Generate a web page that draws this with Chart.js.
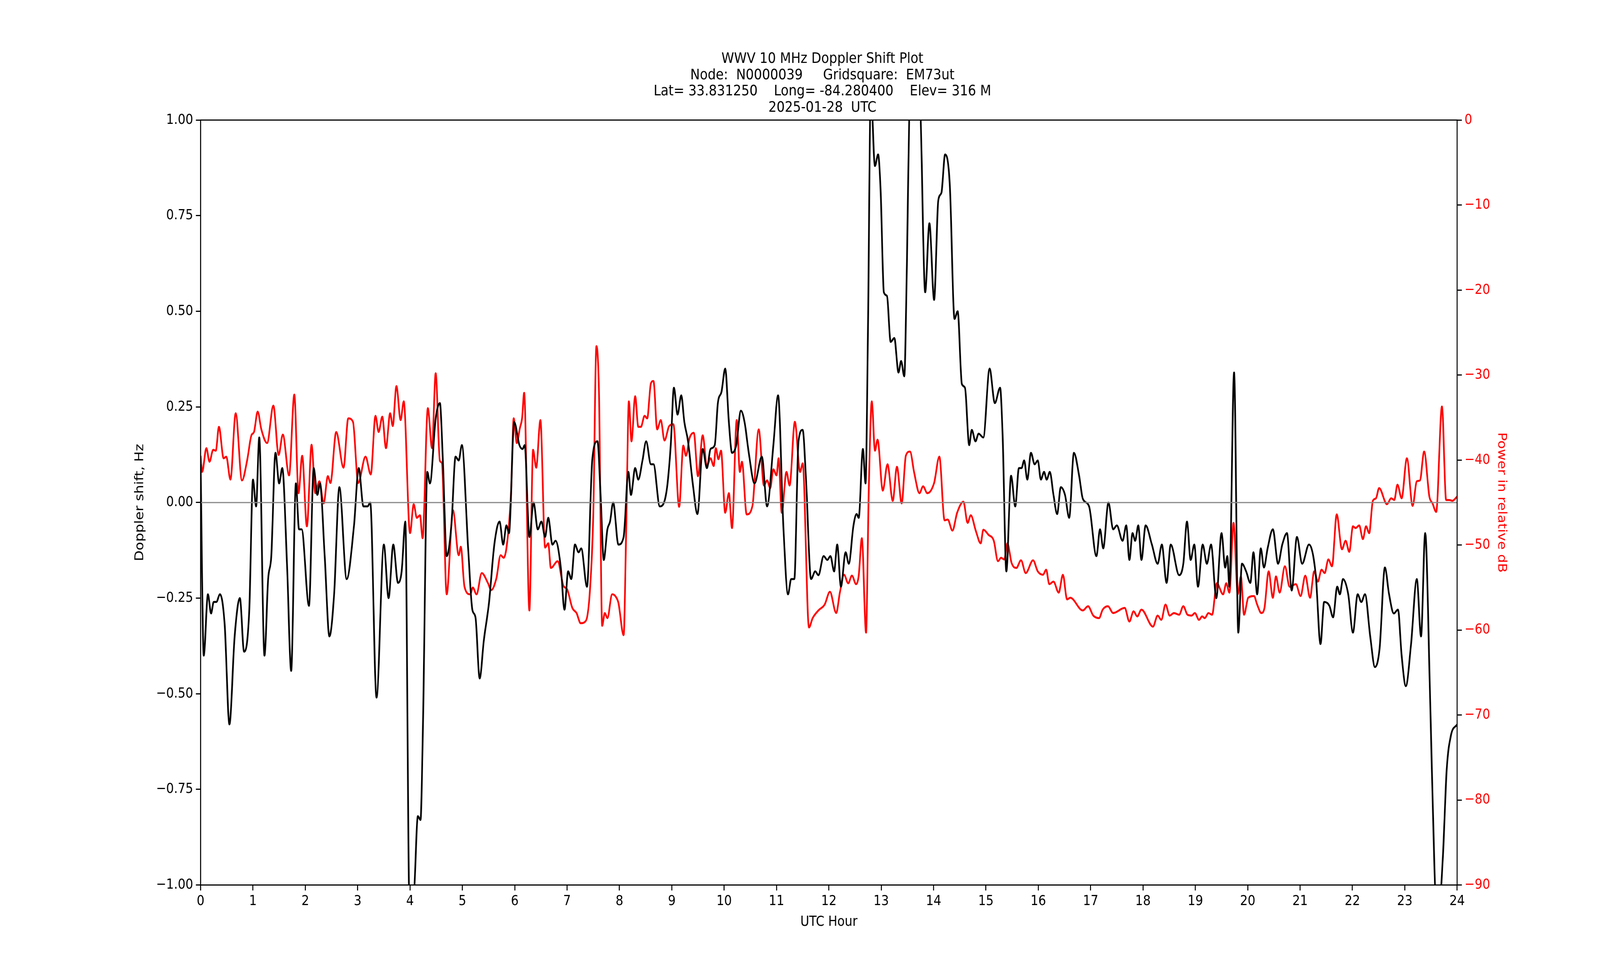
<!DOCTYPE html>
<html>
<head>
<meta charset="utf-8">
<script src="https://cdn.jsdelivr.net/npm/chart.js@4.4.1/dist/chart.umd.min.js"></script>
<style>
  html, body { margin: 0; padding: 0; background: #fff; overflow: hidden; }
  #wrap { width: 4750px; height: 2500px; transform-origin: 0 0; }
  #doppler { display: block; width: 4750px; height: 2500px; }
</style>
</head>
<body>
<div id="wrap"><canvas id="doppler" width="4750" height="2500"></canvas></div>
<script>
// Title lines
const titleLines = [
  'WWV 10 MHz Doppler Shift Plot',
  'Node:  N0000039     Gridsquare:  EM73ut',
  'Lat= 33.831250    Long= -84.280400    Elev= 316 M',
  '2025-01-28  UTC'
]

// Doppler shift (Hz), [hour, value] pairs
const dopplerPts = [
  [0,0.10],[0.06,-0.40],[0.14,-0.24],[0.2,-0.29],[0.25,-0.26],[0.3,-0.26],[0.37,-0.24],[0.46,-0.32],[0.55,-0.58],
  [0.65,-0.35],[0.75,-0.25],[0.83,-0.39],[0.93,-0.28],[1.0,0.06],[1.06,-0.01],[1.12,0.17],[1.22,-0.40],[1.29,-0.20],
  [1.35,-0.14],[1.43,0.13],[1.5,0.05],[1.56,0.09],[1.65,-0.16],[1.73,-0.44],[1.82,0.05],[1.88,-0.07],[1.93,-0.07],
  [2.07,-0.27],[2.16,0.09],[2.23,0.02],[2.28,0.05],[2.37,-0.14],[2.46,-0.35],[2.55,-0.24],[2.65,0.04],[2.79,-0.20],
  [2.93,-0.06],[3.02,0.09],[3.11,-0.01],[3.19,-0.01],[3.24,0.0],[3.36,-0.51],[3.5,-0.11],[3.59,-0.25],[3.68,-0.11],
  [3.77,-0.21],[3.84,-0.18],[3.91,-0.05],[3.99,-1.05],[4.07,-1.03],[4.15,-0.82],[4.2,-0.83],[4.25,-0.56],[4.33,0.08],
  [4.38,0.05],[4.49,0.22],[4.57,0.26],[4.63,0.10],[4.7,-0.14],[4.79,-0.06],[4.87,0.12],[4.93,0.11],[4.99,0.15],
  [5.11,-0.12],[5.19,-0.28],[5.25,-0.30],[5.33,-0.46],[5.41,-0.36],[5.51,-0.26],[5.61,-0.11],[5.71,-0.05],[5.78,-0.11],
  [5.84,-0.06],[5.89,-0.08],[5.99,0.21],[6.09,0.15],[6.15,0.14],[6.19,0.15],[6.28,-0.09],[6.36,0.0],[6.44,-0.07],
  [6.51,-0.05],[6.58,-0.09],[6.64,-0.04],[6.72,-0.11],[6.78,-0.10],[6.88,-0.17],[6.95,-0.28],[7.02,-0.18],[7.08,-0.20],
  [7.15,-0.11],[7.22,-0.13],[7.27,-0.12],[7.38,-0.22],[7.48,0.11],[7.58,0.16],[7.64,0.02],[7.7,-0.15],[7.77,-0.07],
  [7.82,-0.05],[7.88,0.0],[7.98,-0.11],[8.08,-0.09],[8.17,0.08],[8.22,0.02],[8.3,0.09],[8.36,0.06],[8.44,0.11],
  [8.51,0.16],[8.6,0.10],[8.65,0.10],[8.77,-0.01],[8.9,0.03],[8.98,0.15],[9.04,0.30],[9.11,0.23],[9.18,0.28],
  [9.24,0.21],[9.31,0.16],[9.4,0.05],[9.49,-0.03],[9.59,0.14],[9.67,0.09],[9.74,0.14],[9.82,0.15],[9.88,0.26],
  [9.95,0.29],[10.02,0.35],[10.09,0.21],[10.15,0.13],[10.23,0.15],[10.32,0.24],[10.39,0.21],[10.47,0.13],[10.58,0.05],
  [10.72,0.12],[10.82,-0.01],[10.94,0.15],[11.03,0.28],[11.13,-0.06],[11.22,-0.24],[11.28,-0.20],[11.34,-0.20],
  [11.42,0.16],[11.5,0.19],[11.56,0.07],[11.66,-0.20],[11.74,-0.18],[11.8,-0.19],[11.9,-0.14],[11.97,-0.15],
  [12.03,-0.14],[12.1,-0.18],[12.16,-0.11],[12.23,-0.22],[12.32,-0.13],[12.38,-0.16],[12.47,-0.06],[12.53,-0.03],
  [12.57,-0.04],[12.65,0.14],[12.7,0.05],[12.75,0.49],[12.8,1.08],[12.88,0.88],[12.94,0.91],[12.99,0.81],[13.05,0.55],
  [13.11,0.54],[13.18,0.42],[13.25,0.43],[13.33,0.34],[13.38,0.37],[13.44,0.33],[13.49,0.62],[13.54,1.05],[13.64,1.3],
  [13.75,1.02],[13.84,0.55],[13.92,0.73],[14.01,0.53],[14.09,0.79],[14.15,0.81],[14.22,0.91],[14.31,0.83],[14.4,0.48],
  [14.46,0.50],[14.54,0.31],[14.6,0.30],[14.68,0.15],[14.73,0.19],[14.8,0.16],[14.86,0.18],[14.95,0.17],[15.07,0.35],
  [15.17,0.26],[15.27,0.30],[15.32,0.17],[15.39,-0.18],[15.48,0.07],[15.56,-0.01],[15.63,0.09],[15.68,0.09],
  [15.73,0.11],[15.79,0.06],[15.86,0.13],[15.93,0.10],[15.99,0.11],[16.05,0.06],[16.11,0.08],[16.16,0.06],[16.22,0.08],
  [16.29,0.02],[16.36,-0.03],[16.43,0.04],[16.51,0.02],[16.59,-0.04],[16.68,0.13],[16.78,0.07],[16.85,0.01],
  [16.97,-0.01],[17.11,-0.14],[17.18,-0.07],[17.24,-0.12],[17.34,0.0],[17.43,-0.07],[17.5,-0.06],[17.61,-0.10],
  [17.68,-0.06],[17.74,-0.15],[17.8,-0.08],[17.85,-0.10],[17.91,-0.06],[17.97,-0.15],[18.05,-0.06],[18.17,-0.11],
  [18.28,-0.16],[18.36,-0.11],[18.45,-0.21],[18.53,-0.11],[18.69,-0.19],[18.77,-0.16],[18.84,-0.05],[18.91,-0.15],
  [18.98,-0.11],[19.05,-0.22],[19.14,-0.11],[19.22,-0.16],[19.3,-0.11],[19.4,-0.25],[19.5,-0.08],[19.57,-0.17],
  [19.61,-0.14],[19.65,-0.22],[19.74,0.34],[19.82,-0.34],[19.89,-0.16],[19.97,-0.18],[20.05,-0.21],[20.11,-0.13],
  [20.18,-0.24],[20.25,-0.12],[20.31,-0.17],[20.38,-0.12],[20.48,-0.07],[20.58,-0.16],[20.66,-0.11],[20.75,-0.08],
  [20.84,-0.23],[20.94,-0.09],[21.04,-0.16],[21.17,-0.11],[21.3,-0.19],[21.39,-0.37],[21.46,-0.26],[21.56,-0.27],
  [21.63,-0.30],[21.71,-0.22],[21.76,-0.24],[21.82,-0.20],[21.92,-0.24],[22.01,-0.34],[22.1,-0.24],[22.17,-0.26],
  [22.24,-0.24],[22.34,-0.35],[22.43,-0.43],[22.52,-0.38],[22.62,-0.17],[22.7,-0.24],[22.79,-0.29],[22.87,-0.28],
  [22.94,-0.40],[23.02,-0.48],[23.12,-0.37],[23.23,-0.20],[23.31,-0.35],[23.39,-0.08],[23.48,-0.49],[23.54,-0.82],
  [23.6,-1.05],[23.66,-1.05],[23.73,-0.92],[23.8,-0.70],[23.88,-0.61],[24.0,-0.58]
]

// Received power (relative dB), [hour, value] pairs
const powerPts = [
  [0,-39.5],[0.03,-41.4],[0.11,-38.6],[0.17,-40.2],[0.24,-38.8],[0.29,-38.9],[0.35,-36.1],[0.44,-39.8],[0.49,-39.6],
  [0.57,-42.3],[0.67,-34.5],[0.79,-42.4],[0.89,-40.0],[0.97,-37.1],[1.02,-36.7],[1.09,-34.3],[1.16,-36.4],[1.27,-38.0],
  [1.39,-33.6],[1.49,-39.4],[1.57,-37.0],[1.69,-41.8],[1.79,-32.3],[1.87,-43.9],[1.94,-39.5],[2.03,-47.8],[2.12,-38.2],
  [2.19,-43.9],[2.27,-42.5],[2.35,-45.1],[2.43,-41.9],[2.48,-42.7],[2.59,-36.7],[2.73,-40.9],[2.82,-35.1],[2.91,-35.5],
  [3.01,-42.7],[3.15,-39.6],[3.25,-41.7],[3.34,-34.8],[3.4,-36.7],[3.47,-34.9],[3.54,-38.6],[3.62,-34.5],[3.67,-36.0],
  [3.74,-31.3],[3.82,-35.3],[3.88,-33.1],[4.0,-48.6],[4.07,-45.2],[4.13,-46.8],[4.19,-46.5],[4.24,-49.2],[4.34,-33.9],
  [4.42,-38.6],[4.49,-29.8],[4.57,-40.1],[4.61,-40.4],[4.7,-55.8],[4.82,-45.9],[4.93,-51.2],[4.97,-50.2],[5.04,-54.9],
  [5.15,-55.8],[5.2,-55.0],[5.27,-55.8],[5.37,-53.3],[5.49,-54.5],[5.55,-55.3],[5.65,-53.9],[5.73,-51.2],[5.79,-51.5],
  [5.87,-48.9],[5.93,-43.7],[5.98,-35.1],[6.04,-38.0],[6.1,-36.2],[6.14,-35.1],[6.18,-32.1],[6.28,-57.7],[6.35,-38.8],
  [6.41,-40.9],[6.49,-35.3],[6.58,-50.3],[6.64,-49.8],[6.69,-52.7],[6.82,-51.9],[6.93,-54.8],[7.0,-55.2],[7.1,-57.4],
  [7.18,-58.0],[7.26,-59.2],[7.36,-58.9],[7.44,-55.0],[7.5,-46.5],[7.56,-26.6],[7.61,-32.4],[7.67,-59.5],[7.72,-58.0],
  [7.77,-58.6],[7.86,-55.8],[7.92,-56.0],[7.98,-56.8],[8.08,-60.6],[8.13,-47.7],[8.18,-33.1],[8.23,-37.8],[8.3,-32.5],
  [8.36,-36.1],[8.41,-36.1],[8.48,-34.8],[8.53,-35.1],[8.6,-31.0],[8.65,-30.7],[8.72,-36.4],[8.79,-35.3],[8.86,-37.7],
  [8.95,-36.0],[9.03,-35.8],[9.14,-45.5],[9.22,-38.3],[9.27,-39.5],[9.34,-37.4],[9.42,-36.8],[9.5,-41.9],[9.59,-37.1],
  [9.67,-40.7],[9.74,-39.8],[9.8,-40.7],[9.84,-38.6],[9.89,-39.9],[9.94,-38.9],[10.02,-46.2],[10.09,-43.9],
  [10.15,-48.0],[10.24,-35.3],[10.3,-41.4],[10.34,-40.2],[10.43,-46.4],[10.54,-45.4],[10.66,-36.4],[10.76,-43.0],
  [10.82,-42.4],[10.88,-43.3],[10.94,-41.1],[11.0,-41.8],[11.04,-39.8],[11.1,-46.2],[11.19,-41.4],[11.25,-43.0],
  [11.35,-35.5],[11.45,-41.4],[11.5,-40.4],[11.62,-59.7],[11.69,-58.6],[11.8,-57.7],[11.92,-57.0],[12.02,-55.5],
  [12.14,-58.0],[12.21,-55.6],[12.29,-53.5],[12.37,-54.5],[12.44,-53.6],[12.52,-54.6],[12.57,-53.6],[12.63,-49.2],
  [12.71,-60.3],[12.76,-44.2],[12.82,-33.1],[12.88,-38.9],[12.93,-37.6],[13.03,-43.6],[13.12,-40.5],[13.22,-44.8],
  [13.3,-40.8],[13.39,-45.1],[13.47,-39.5],[13.55,-39.0],[13.63,-41.5],[13.73,-43.9],[13.8,-43.1],[13.88,-43.9],
  [14.01,-42.7],[14.11,-39.6],[14.21,-47.1],[14.27,-47.0],[14.36,-48.3],[14.45,-46.2],[14.57,-44.9],[14.65,-47.4],
  [14.71,-46.5],[14.81,-48.4],[14.9,-49.8],[14.95,-48.2],[15.05,-48.8],[15.15,-49.5],[15.23,-51.9],[15.29,-51.5],
  [15.35,-51.7],[15.41,-49.8],[15.49,-52.1],[15.58,-52.7],[15.67,-51.8],[15.76,-53.3],[15.9,-51.8],[15.99,-53.1],
  [16.09,-53.5],[16.15,-52.9],[16.21,-54.6],[16.29,-54.3],[16.39,-55.6],[16.47,-53.5],[16.55,-56.4],[16.61,-56.2],
  [16.85,-57.7],[16.95,-57.2],[17.05,-58.3],[17.16,-58.6],[17.23,-57.6],[17.33,-57.2],[17.43,-58.0],[17.65,-57.4],
  [17.74,-59.0],[17.82,-57.8],[17.89,-58.4],[17.97,-57.6],[18.19,-59.6],[18.28,-58.3],[18.35,-58.8],[18.43,-57.0],
  [18.51,-58.3],[18.59,-58.0],[18.69,-58.2],[18.77,-57.2],[18.85,-58.2],[18.93,-58.3],[18.99,-58.0],[19.07,-58.8],
  [19.13,-58.4],[19.18,-58.6],[19.25,-58.0],[19.32,-58.2],[19.41,-54.5],[19.53,-55.8],[19.59,-54.5],[19.65,-55.6],
  [19.73,-47.4],[19.81,-55.8],[19.87,-53.7],[19.93,-58.2],[20.01,-56.2],[20.12,-56.0],[20.18,-57.0],[20.26,-58.0],
  [20.32,-57.4],[20.4,-53.1],[20.48,-56.2],[20.54,-53.7],[20.61,-55.6],[20.71,-52.5],[20.8,-54.9],[20.92,-54.6],
  [21.01,-56.0],[21.1,-53.6],[21.19,-56.2],[21.27,-53.1],[21.34,-54.3],[21.41,-52.9],[21.47,-53.3],[21.54,-51.7],
  [21.61,-52.5],[21.7,-46.4],[21.8,-50.5],[21.87,-49.5],[21.94,-50.8],[22.01,-47.8],[22.06,-48.0],[22.13,-47.7],
  [22.2,-49.3],[22.26,-47.8],[22.32,-48.6],[22.39,-44.8],[22.45,-44.5],[22.51,-43.3],[22.66,-45.2],[22.74,-44.5],
  [22.8,-44.7],[22.86,-42.9],[22.94,-44.5],[23.04,-39.8],[23.15,-45.4],[23.23,-42.5],[23.29,-42.4],[23.37,-39.0],
  [23.47,-44.3],[23.53,-45.1],[23.6,-46.1],[23.71,-33.7],[23.79,-44.7],[23.85,-44.7],[23.91,-44.8],[24.0,-44.3]
]

const zeroLine = [[0, 0], [24, 0]]

const toXY = pts => pts.map(p => ({ x: p[0], y: p[1] }))
const minus = v => String(v).replace('-', '\u2212')

// fit the fixed 4750x2500 figure into whatever the window is
const wrap = document.getElementById('wrap')
const vw = window.innerWidth || 4750
const vh = window.innerHeight || 2500
wrap.style.transform = 'scale(' + (vw / 4750) + ',' + (vh / 2500) + ')'

// matplotlib-like box around the plot area
const frame = {
  id: 'frame',
  afterDraw(chart) {
    const a = chart.chartArea
    const c = chart.ctx
    c.save()
    c.strokeStyle = '#000'
    c.lineWidth = 3
    c.strokeRect(a.left, a.top, a.right - a.left, a.bottom - a.top)
    c.restore()
  }
}

const font = { family: 'DejaVu Sans', size: 36 }
const tickGrid = color => ({ drawOnChartArea: false, drawTicks: true, tickLength: 14, tickWidth: 3, color: color })

new Chart(document.getElementById('doppler'), {
  type: 'line',
  data: {
    datasets: [
      { data: toXY(zeroLine), yAxisID: 'y', borderColor: '#888888', borderWidth: 3, pointRadius: 0 },
      { data: toXY(dopplerPts), yAxisID: 'y', borderColor: '#000', borderWidth: 5, pointRadius: 0, cubicInterpolationMode: 'monotone' },
      { data: toXY(powerPts), yAxisID: 'y1', borderColor: '#ff0000', borderWidth: 5, pointRadius: 0, cubicInterpolationMode: 'monotone' }
    ]
  },
  plugins: [frame],
  options: {
    responsive: false,
    animation: false,
    devicePixelRatio: 1,
    layout: { padding: { left: 390, right: 257, top: 130, bottom: 115 } },
    plugins: {
      legend: { display: false },
      tooltip: { enabled: false },
      title: {
        display: true,
        text: titleLines,
        color: '#000',
        font: { family: 'DejaVu Sans', size: 38, weight: 'normal', lineHeight: 1.1 },
        padding: { top: 0, bottom: 10 }
      }
    },
    scales: {
      x: {
        type: 'linear',
        min: 0,
        max: 24,
        grid: tickGrid('#000'),
        border: { display: false },
        ticks: { stepSize: 1, color: '#000', font: font, padding: 6, maxRotation: 0 },
        title: { display: true, text: 'UTC Hour', color: '#000', font: font, padding: { top: 4 } }
      },
      y: {
        position: 'left',
        min: -1,
        max: 1,
        grid: tickGrid('#000'),
        border: { display: false },
        ticks: { stepSize: 0.25, color: '#000', font: font, padding: 8, callback: v => minus(v.toFixed(2)) },
        title: { display: true, text: 'Doppler shift, Hz', color: '#000', font: font, padding: { bottom: 18 } }
      },
      y1: {
        position: 'right',
        min: -90,
        max: 0,
        grid: tickGrid('#000'),
        border: { display: false },
        ticks: { stepSize: 10, color: '#ff0000', font: font, padding: 8, callback: v => minus(v) },
        title: { display: true, text: 'Power in relative dB', color: '#ff0000', font: font, padding: { top: 14 } }
      }
    }
  }
})
</script>
</body>
</html>
